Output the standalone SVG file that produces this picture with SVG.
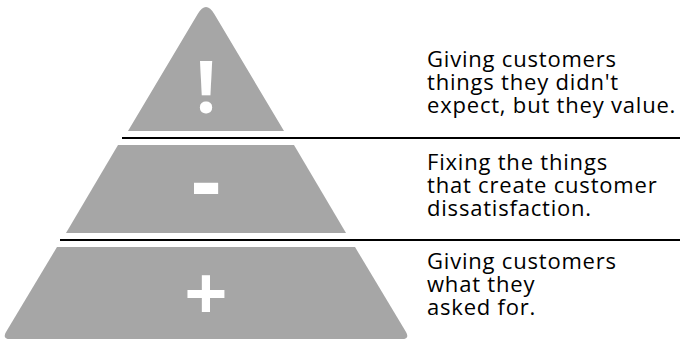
<svg xmlns="http://www.w3.org/2000/svg" width="680" height="342" viewBox="0 0 680 342">
  <style>
    .tier { fill: #a6a6a6; }
    .sym { fill: #ffffff; font-family: "Open Sans", "Liberation Sans", sans-serif; font-weight: bold; text-anchor: middle; }
    .desc { fill: #000000; font-family: "Open Sans", "Liberation Sans", sans-serif; font-size: 22px; letter-spacing: 0.8px; }
    .rule { stroke: #000000; stroke-width: 2; fill: none; }
  </style>
  <rect width="680" height="342" fill="#ffffff"/>

  <!-- top tier: delight -->
  <g id="tier-delight">
    <path class="tier" d="M197.7,14 Q206,0 214.3,14 L284,131 L128,131 Z"/>
    <text class="sym" x="206" y="113" font-size="72">!</text>
  </g>

  <!-- middle tier: dissatisfaction fixes -->
  <g id="tier-fixes">
    <polygon class="tier" points="118,145 294,145 346,233 66,233"/>
    <text class="sym" x="206" y="213" font-size="92">-</text>
  </g>

  <!-- bottom tier: requested features -->
  <g id="tier-requested">
    <path class="tier" d="M57,247 L355,247 L406,332 Q410,339 402,339 L10,339 Q2,339 6,332 Z"/>
    <text class="sym" x="206" y="320" font-size="76">+</text>
  </g>

  <!-- separator rules -->
  <g id="connectors">
    <line class="rule" x1="122" y1="138" x2="680" y2="138"/>
    <line class="rule" x1="60" y1="240" x2="680" y2="240"/>
  </g>

  <!-- descriptions -->
  <g id="label-delight">
    <text class="desc" x="427" y="67">Giving customers</text>
    <text class="desc" x="427" y="90">things they didn't</text>
    <text class="desc" x="427" y="113">expect, but they value.</text>
  </g>
  <g id="label-fixes">
    <text class="desc" x="427" y="170">Fixing the things</text>
    <text class="desc" x="427" y="193">that create customer</text>
    <text class="desc" x="427" y="216">dissatisfaction.</text>
  </g>
  <g id="label-requested">
    <text class="desc" x="427" y="269">Giving customers</text>
    <text class="desc" x="427" y="292">what they</text>
    <text class="desc" x="427" y="315">asked for.</text>
  </g>
</svg>
